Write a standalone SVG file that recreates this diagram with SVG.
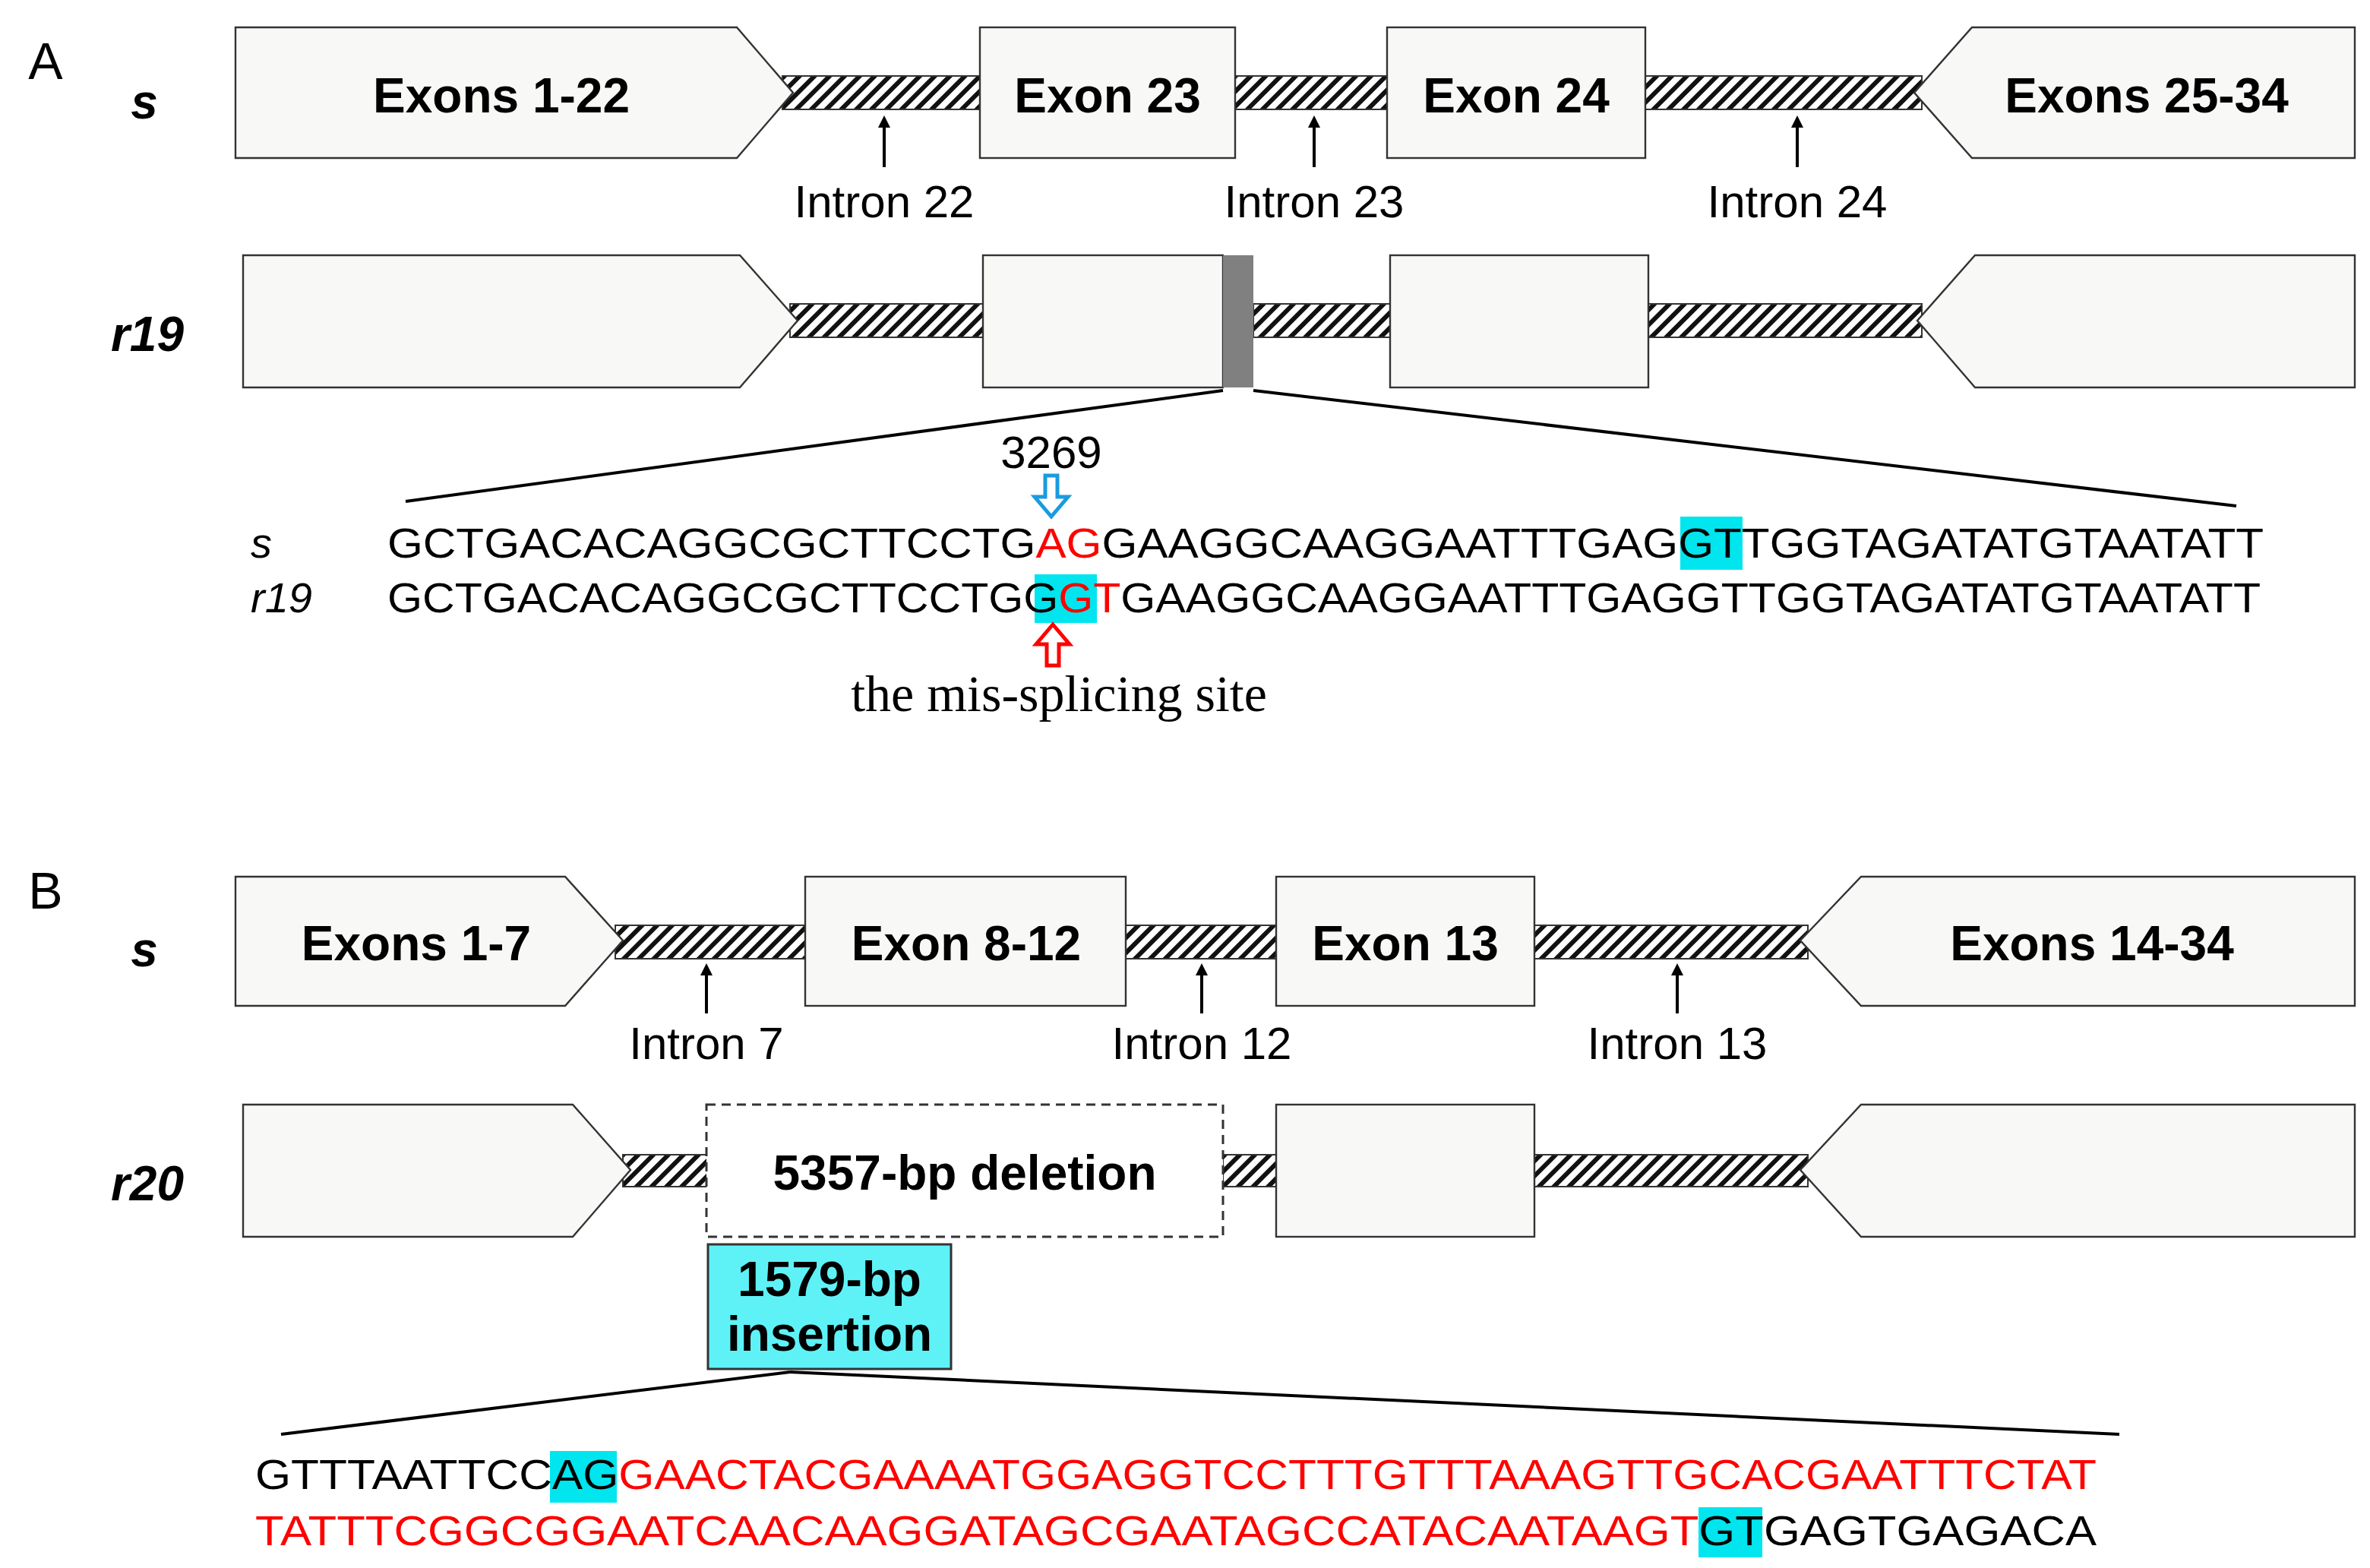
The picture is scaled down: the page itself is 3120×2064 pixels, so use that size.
<svg xmlns="http://www.w3.org/2000/svg" width="3120" height="2064" viewBox="0 0 3120 2064">
<defs>
<pattern id="hatch" width="7" height="7" patternUnits="userSpaceOnUse" patternTransform="rotate(45)">
<rect width="7" height="7" fill="#fff"/>
<rect width="3" height="7" fill="#111"/>
</pattern>
<marker id="ah" markerWidth="8" markerHeight="8" refX="4" refY="4" orient="auto" markerUnits="userSpaceOnUse"><path d="M0,0 L8,4 L0,8 Z" fill="#000"/></marker>
<style>
.ex{fill:#f8f8f6;stroke:#333;stroke-width:1.2}
.in{fill:url(#hatch);stroke:#333;stroke-width:1}
.lb{font-family:"Liberation Sans",Arial,sans-serif;font-weight:bold;font-size:32px;text-anchor:middle}
.it{font-family:"Liberation Sans",Arial,sans-serif;font-size:30px;text-anchor:middle}
.rw{font-family:"Liberation Sans",Arial,sans-serif;font-weight:bold;font-style:italic;font-size:32px;text-anchor:middle}
.sq{font-family:"Liberation Sans",Arial,sans-serif;font-size:28px}
.ln{stroke:#000;stroke-width:2;fill:none}
.cy{fill:#00e5ee}
.red{fill:#ff0000}
</style>
</defs>
<rect width="3120" height="2064" fill="#fff"/>
<g transform="scale(2)">
<!-- Panel A -->
<text x="30" y="52" font-family="Liberation Sans,Arial,sans-serif" font-size="34" text-anchor="middle">A</text>
<text class="rw" x="95" y="78">s</text>
<g id="introns-a">
<rect class="in" x="515" y="50" width="132" height="22"/>
<rect class="in" x="813" y="50" width="102" height="22"/>
<rect class="in" x="1083" y="50" width="182" height="22"/>
<rect class="in" x="520" y="200" width="128" height="22"/>
<rect class="in" x="825" y="200" width="92" height="22"/>
<rect class="in" x="1085" y="200" width="180" height="22"/>
</g>
<g id="a-ex1"><path class="ex" d="M155,18 L485,18 L522,61 L485,104 L155,104 Z"/><text class="lb" x="330" y="74">Exons 1-22</text></g>
<g id="a-ex23"><rect class="ex" x="645" y="18" width="168" height="86"/><text class="lb" x="729" y="74">Exon 23</text></g>
<g id="a-ex24"><rect class="ex" x="913" y="18" width="170" height="86"/><text class="lb" x="998" y="74">Exon 24</text></g>
<g id="a-ex25"><path class="ex" d="M1260,61 L1298,18 L1550,18 L1550,104 L1298,104 Z"/><text class="lb" x="1413" y="74">Exons 25-34</text></g>
<g id="intron-labels-a">
<text class="it" x="582" y="143">Intron 22</text>
<text class="it" x="865" y="143">Intron 23</text>
<text class="it" x="1183" y="143">Intron 24</text>
</g>
<text class="rw" x="97" y="231">r19</text>
<g id="r19-ex1"><path class="ex" d="M160,168 L487,168 L525,211 L487,255 L160,255 Z"/></g>
<g id="r19-ex23"><rect class="ex" x="647" y="168" width="158" height="87"/><rect x="805" y="168" width="20" height="87" fill="#808080"/></g>
<g id="r19-ex24"><rect class="ex" x="915" y="168" width="170" height="87"/></g>
<g id="r19-ex25"><path class="ex" d="M1262,211 L1300,168 L1550,168 L1550,255 L1300,255 Z"/></g>
<g id="seq-a">
<text x="692" y="308" font-family="Liberation Sans,Arial,sans-serif" font-size="30" text-anchor="middle">3269</text>
<path d="M688,313 L696,313 L696,327 L703,327 L692,340 L681,327 L688,327 Z" fill="#fff" stroke="#1a9be0" stroke-width="2.5"/>
<rect class="cy" x="1106" y="340" width="41" height="35"/>
<rect class="cy" x="681" y="378" width="41" height="32"/>
<text class="sq" x="165" y="367" font-style="italic">s</text>
<text class="sq" x="165" y="403" font-style="italic">r19</text>
<text class="sq" x="255" y="367" textLength="1235" lengthAdjust="spacingAndGlyphs">GCTGACACAGGCGCTTCCTG<tspan fill="#f00">AG</tspan>GAAGGCAAGGAATTTGAGGTTGGTAGATATGTAATATT</text>
<text class="sq" x="255" y="403" textLength="1233" lengthAdjust="spacingAndGlyphs">GCTGACACAGGCGCTTCCTGG<tspan fill="#f00">GT</tspan>GAAGGCAAGGAATTTGAGGTTGGTAGATATGTAATATT</text>
<path d="M689,438 L697,438 L697,424 L704,424 L693,411 L682,424 L689,424 Z" fill="#fff" stroke="#f00" stroke-width="2.5"/>
<text x="697" y="468" font-family="Liberation Serif,Times New Roman,serif" font-size="34" text-anchor="middle">the mis-splicing site</text>
</g>
<!-- Panel B -->
<text x="30" y="598" font-family="Liberation Sans,Arial,sans-serif" font-size="34" text-anchor="middle">B</text>
<text class="rw" x="95" y="636">s</text>
<g id="introns-b">
<rect class="in" x="405" y="609" width="125" height="22"/>
<rect class="in" x="741" y="609" width="99" height="22"/>
<rect class="in" x="1010" y="609" width="180" height="22"/>
<rect class="in" x="410" y="760" width="56" height="21"/>
<rect class="in" x="805" y="760" width="35" height="21"/>
<rect class="in" x="1010" y="760" width="180" height="21"/>
</g>
<g id="b-ex1"><path class="ex" d="M155,577 L372,577 L410,619 L372,662 L155,662 Z"/><text class="lb" x="274" y="632">Exons 1-7</text></g>
<g id="b-ex8"><rect class="ex" x="530" y="577" width="211" height="85"/><text class="lb" x="636" y="632">Exon 8-12</text></g>
<g id="b-ex13"><rect class="ex" x="840" y="577" width="170" height="85"/><text class="lb" x="925" y="632">Exon 13</text></g>
<g id="b-ex14"><path class="ex" d="M1185,619 L1225,577 L1550,577 L1550,662 L1225,662 Z"/><text class="lb" x="1377" y="632">Exons 14-34</text></g>
<g id="intron-labels-b">
<text class="it" x="465" y="697">Intron 7</text>
<text class="it" x="791" y="697">Intron 12</text>
<text class="it" x="1104" y="697">Intron 13</text>
</g>
<text class="rw" x="97" y="790">r20</text>
<g id="r20-ex1"><path class="ex" d="M160,727 L377,727 L415,770 L377,814 L160,814 Z"/></g>
<g id="r20-del"><rect x="465" y="727" width="340" height="87" fill="#fff" stroke="#333" stroke-width="1.5" stroke-dasharray="6,4"/><text class="lb" x="635" y="783">5357-bp deletion</text></g>
<g id="r20-ex13"><rect class="ex" x="840" y="727" width="170" height="87"/></g>
<g id="r20-ex14"><path class="ex" d="M1185,770 L1225,727 L1550,727 L1550,814 L1225,814 Z"/></g>
<g id="ins"><rect x="466" y="819" width="160" height="82" fill="#5ef2f7" stroke="#333" stroke-width="1.5"/><text class="lb" x="546" y="853" font-size="28">1579-bp</text><text class="lb" x="546" y="889" font-size="28">insertion</text></g>
<g id="seq-b">
<rect class="cy" x="362" y="955" width="44" height="34"/>
<rect class="cy" x="1118" y="992" width="42" height="33"/>
<text class="sq" x="168" y="980" textLength="1212" lengthAdjust="spacingAndGlyphs">GTTTAATTCCAG<tspan fill="#f00">GAACTACGAAAATGGAGGTCCTTTGTTTAAAGTTGCACGAATTTCTAT</tspan></text>
<text class="sq" x="168" y="1017" textLength="1212" lengthAdjust="spacingAndGlyphs"><tspan fill="#f00">TATTTCGGCGGAATCAACAAGGATAGCGAATAGCCATACAATAAGT</tspan>GTGAGTGAGACA</text>
</g>
<g id="connectors">
<line class="ln" x1="582" y1="110" x2="582" y2="80" marker-end="url(#ah)"/>
<line class="ln" x1="865" y1="110" x2="865" y2="80" marker-end="url(#ah)"/>
<line class="ln" x1="1183" y1="110" x2="1183" y2="80" marker-end="url(#ah)"/>
<line class="ln" x1="805" y1="257" x2="267" y2="330"/>
<line class="ln" x1="825" y1="257" x2="1472" y2="333"/>
<line class="ln" x1="465" y1="667" x2="465" y2="638" marker-end="url(#ah)"/>
<line class="ln" x1="791" y1="667" x2="791" y2="638" marker-end="url(#ah)"/>
<line class="ln" x1="1104" y1="667" x2="1104" y2="638" marker-end="url(#ah)"/>
<line class="ln" x1="520" y1="903" x2="185" y2="944"/>
<line class="ln" x1="520" y1="903" x2="1395" y2="944"/>
</g>
</g>
</svg>
